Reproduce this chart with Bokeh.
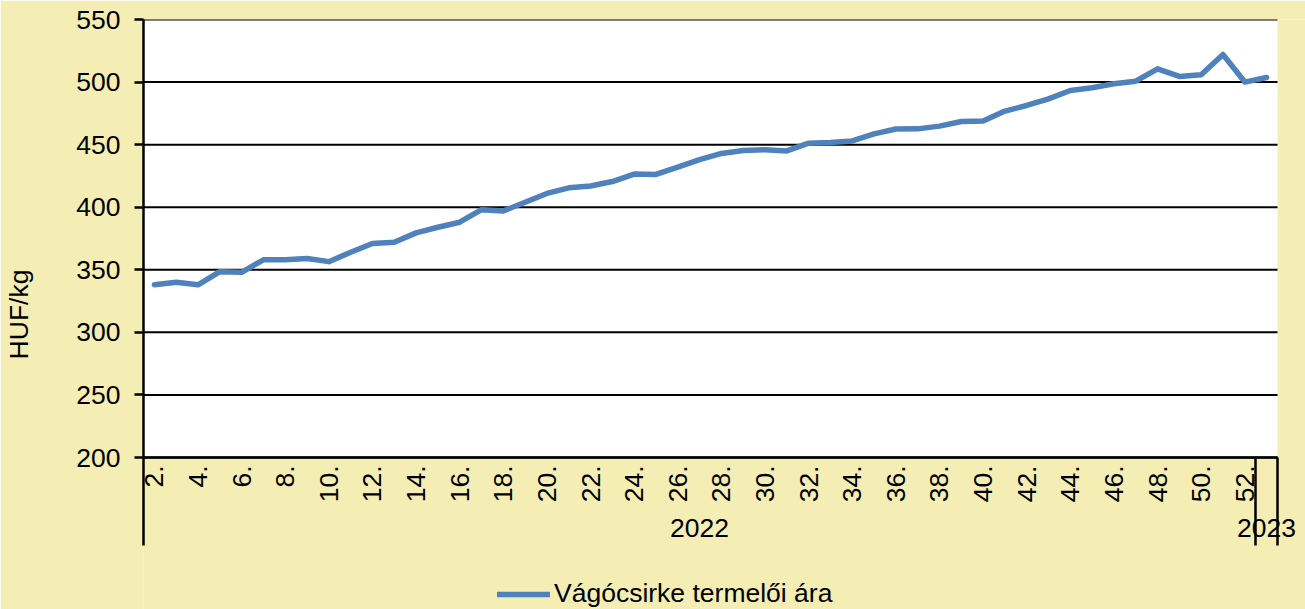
from bokeh.plotting import figure
from bokeh.models import (Range1d, FixedTicker, LinearAxis, Legend, LegendItem,
                          BoxAnnotation)
from bokeh.embed import file_html
from bokeh.resources import INLINE

# ---- data ----
years = ["2022"] * 51 + ["2023"]
weeks = [f"{w}." for w in range(2, 53)] + ["1."]
prices = [338, 340, 338, 348.5, 348, 358, 358, 359, 356.5, 364,
          371, 372, 379.5, 384, 388, 398, 397, 404, 411, 415.5,
          417, 420.5, 426.5, 426.2, 432, 438, 443, 445.3, 446, 445,
          451.2, 451.7, 453, 458.6, 462.5, 462.6, 464.8, 468.5, 468.8, 476.8,
          481.3, 486.6, 493.3, 495.4, 498.6, 500.7, 510.6, 504.5, 505.8, 522,
          500, 503.7]
y_ticks = [200, 250, 300, 350, 400, 450, 500, 550]
series_name = "Vágócsirke termelői ára"
y_label = "HUF/kg"

BG = "#F4EDB4"
FONT = "Liberation Sans"
FS = "26.5px"
SEP_LEN = 88

# layout (pixels)
W, H = 1305, 609
FRAME_LEFT, FRAME_TOP, AXIS_Y, PLOT_RIGHT = 143, 19, 457, 1277
n = len(prices)
y_min, y_max = y_ticks[0], y_ticks[-1]
px_per_unit = (AXIS_Y - FRAME_TOP) / (y_max - y_min)
y_bottom = y_min - (H - AXIS_Y) / px_per_unit
y_sep_end = y_min - SEP_LEN / px_per_unit
px_per_cat = (PLOT_RIGHT - FRAME_LEFT) / n
x_end = -0.5 + (W - FRAME_LEFT) / px_per_cat

xs = list(range(n))

p = figure(width=W, height=H, output_backend="svg", toolbar_location=None,
           x_range=Range1d(-0.5, x_end), y_range=Range1d(y_bottom, y_max),
           min_border_left=FRAME_LEFT, min_border_right=0, min_border_top=FRAME_TOP,
           min_border_bottom=0, x_axis_location=None)
p.border_fill_color = BG
p.background_fill_color = BG
p.outline_line_color = None
p.xgrid.visible = False
p.ygrid.visible = False

plot_bg = BoxAnnotation(left=-0.5, right=n - 0.5, bottom=y_min, top=y_max,
                        fill_color="white", fill_alpha=1,
                        line_color=None, level="image")
p.add_layout(plot_bg)

# horizontal gridlines
p.segment(x0=[-0.5] * len(y_ticks), y0=y_ticks, x1=[n - 0.5] * len(y_ticks),
          y1=y_ticks, line_color="black", line_width=2)

r = p.line(xs, prices, line_color="#4F81BD", line_width=5.5,
           line_join="round", line_cap="round")

# y axis
p.yaxis.ticker = FixedTicker(ticks=y_ticks)
p.yaxis.bounds = (y_sep_end, y_max)
p.yaxis.axis_label = y_label
p.yaxis.axis_label_text_font = FONT
p.yaxis.axis_label_text_font_size = FS
p.yaxis.axis_label_text_font_style = "normal"
p.yaxis.axis_label_text_color = "black"
p.yaxis.axis_label_standoff = 39
p.yaxis.major_label_text_font = FONT
p.yaxis.major_label_text_font_size = FS
p.yaxis.major_label_text_color = "black"
p.yaxis.major_label_standoff = 14
p.yaxis.major_tick_out = 9
p.yaxis.major_tick_in = 0
p.yaxis.minor_tick_line_color = None
p.yaxis.axis_line_color = "black"
p.yaxis.axis_line_width = 2.5
p.yaxis.major_tick_line_width = 2.5

# week axis (minor ticks serve as year separators)
shown = list(range(0, 51, 2))
group_edges = []
for i in range(1, n):
    if years[i] != years[i - 1]:
        group_edges.append(i - 0.5)
group_edges.append(n - 0.5)

xa = LinearAxis(fixed_location=y_min, bounds=(-0.5, n - 0.5),
                ticker=FixedTicker(ticks=shown, minor_ticks=group_edges),
                major_label_overrides={i: weeks[i] for i in shown},
                major_label_orientation=3.14159265 / 2,
                major_label_text_font=FONT, major_label_text_font_size=FS,
                major_label_text_color="black",
                major_label_standoff=8 - SEP_LEN,
                major_tick_out=0, major_tick_in=0,
                minor_tick_in=0, minor_tick_out=SEP_LEN,
                minor_tick_line_color="black", minor_tick_line_width=2.5,
                axis_line_color="black", axis_line_width=2.5)
p.add_layout(xa, "below")

# group (year) axis
uniq_years = []
for y in years:
    if y not in uniq_years:
        uniq_years.append(y)
centers = {}
for y in uniq_years:
    idx = [i for i, yy in enumerate(years) if yy == y]
    centers[y] = (idx[0] + idx[-1]) / 2
ga = LinearAxis(fixed_location=y_min,
                ticker=FixedTicker(ticks=list(centers.values())),
                major_label_overrides={v: k for k, v in centers.items()},
                axis_line_color=None, major_tick_line_color=None,
                minor_tick_line_color=None,
                major_label_text_font=FONT, major_label_text_font_size=FS,
                major_label_text_color="black", major_label_standoff=55)
p.add_layout(ga, "below")

legend = Legend(items=[LegendItem(label=series_name, renderers=[r])],
                location=(354, 0), orientation="horizontal",
                label_text_font=FONT, label_text_font_size=FS,
                label_text_color="black", glyph_width=53, glyph_height=26,
                label_height=26, label_standoff=4,
                padding=0, margin=0,
                border_line_color=None, background_fill_alpha=0)
p.add_layout(legend, "center")

html = file_html(p, INLINE)
html = html.replace("<body>", '<body style="margin:0;background-color:%s;">' % BG, 1)
open("out.html", "w").write(html)
